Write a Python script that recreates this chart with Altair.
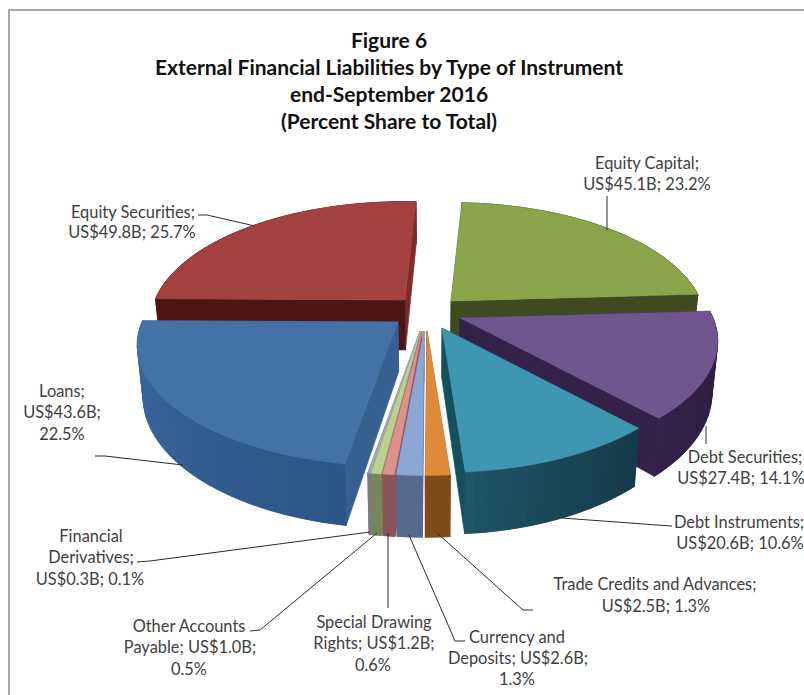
import math
import altair as alt

# Liabilities by instrument, clockwise from the top of the pie (US$ billions)
names = ["Equity Capital", "Debt Securities", "Debt Instruments", "Trade Credits and Advances",
         "Currency and Deposits", "Special Drawing Rights", "Other Accounts Payable",
         "Financial Derivatives", "Loans", "Equity Securities"]
values = [45.1, 27.4, 20.6, 2.5, 2.6, 1.2, 1.0, 0.3, 43.6, 49.8]

# Exploded position of each wedge's apex and its horizontal radius
apex_x = [451, 460, 442, 427, 424, 422, 420.5, 420, 398, 405]
apex_y = [301, 318, 328, 331, 331, 331, 331, 331, 322, 300]
radius_x = [250, 253, 250, 250, 250, 250, 250, 250, 256, 250]

# Wedge colours: top face, rim at both ends of the sweep, start and end cut faces
top_colors = ["#8BA54B", "#71558F", "#3E96B0", "#DF8A38", "#8CA6D5", "#DE8F8E", "#BAD18F",
              "#A9A1BA", "#4472A6", "#A34140"]
rim_start = ["#3F4A22", "#2E1E3C", "#163A48", "#7F4B1B", "#56698F", "#8A5558", "#77875C",
             "#7C7B8A", "#2D5587", "#5A1C1A"]
rim_end = ["#3F4A22", "#33214A", "#1F5468", "#7F4B1B", "#56698F", "#8A5558", "#77875C",
           "#7C7B8A", "#3C6BA2", "#5A1C1A"]
face_start = ["#4A5826", "#33214A", "#1C4452", "#7F4B1B", "#56698F", "#8A5558", "#77875C",
              "#7C7B8A", "#36608F", "#4B1614"]
face_end = ["#3E4A1F", "#33214A", "#12505F", "#7F4B1B", "#56698F", "#8A5558", "#77875C",
            "#7C7B8A", "#36608F", "#7D2B2A"]

# Back-to-front painting order of the wedges; the thin front wedges go left to right
paint_order = [9, 0, 1, 2, 7, 6, 5, 4, 3, 8]

title_lines = ["Figure 6", "External Financial Liabilities by Type of Instrument",
               "end-September 2016", "(Percent Share to Total)"]
title_y = [42, 69, 96, 123]

label_text = [
    ("Equity Capital;", 647, 164), ("US$45.1B; 23.2%", 647, 185),
    ("Equity Securities;", 133, 213), ("US$49.8B; 25.7%", 132, 233),
    ("Loans;", 62, 392), ("US$43.6B;", 62, 413), ("22.5%", 62, 435),
    ("Debt Securities;", 745, 458), ("US$27.4B; 14.1%", 741, 479),
    ("Debt Instruments;", 739, 523), ("US$20.6B; 10.6%", 740, 544),
    ("Trade Credits and Advances;", 655, 585), ("US$2.5B; 1.3%", 656, 607),
    ("Currency and", 517, 638), ("Deposits; US$2.6B;", 518, 659), ("1.3%", 517, 680),
    ("Special Drawing", 374, 623), ("Rights; US$1.2B;", 374, 644), ("0.6%", 373, 666),
    ("Other Accounts", 189, 627), ("Payable; US$1.0B;", 190, 648), ("0.5%", 189, 670),
    ("Financial", 91, 537), ("Derivatives;", 91, 558), ("US$0.3B; 0.1%", 90, 580),
]

leaders = [
    [(607, 196), (607, 230)],
    [(198, 215), (207, 215), (255, 226)],
    [(95, 456), (105, 456), (183, 465)],
    [(706, 426), (706, 444)],
    [(672, 526), (657, 525), (562, 518)],
    [(533, 610), (523, 610), (437, 533)],
    [(465, 641), (455, 641), (409, 535)],
    [(388, 533), (388, 608)],
    [(250, 631), (260, 630), (377, 533)],
    [(137, 562), (150, 561), (370, 532)],
]

frame = [(804, 10), (9, 10), (9, 695)]

START_ANGLE = 3.0
RY = 117.0
PERSPECTIVE = 0.19
DEPTH = 50.0
VANISH_X = 430.0


def top_point(i, angle):
    a = math.radians(angle)
    u, v = math.sin(a), -math.cos(a)
    s = 1 / (1 - PERSPECTIVE * v)
    return apex_x[i] + radius_x[i] * u * s, apex_y[i] + RY * v * s, s


def lower(x, y, s):
    return x + (VANISH_X - x) * 0.02, y + DEPTH * s


def mix(c1, c2, t):
    a = [int(c1[k:k + 2], 16) for k in (1, 3, 5)]
    b = [int(c2[k:k + 2], 16) for k in (1, 3, 5)]
    return "#%02x%02x%02x" % tuple(round(p + (q - p) * t) for p, q in zip(a, b))


def polygon(points, color):
    ring = [list(p) for p in points] + [list(points[0])]
    return {"type": "Feature", "properties": {"color": color},
            "geometry": {"type": "Polygon", "coordinates": [ring]}}


# Sweep of each wedge follows directly from its value
total = sum(values)
sweeps = []
angle = START_ANGLE
for v_ in values:
    sweeps.append((angle, angle + v_ / total * 360))
    angle += v_ / total * 360

features = []
for i in paint_order:
    a0, a1 = sweeps[i]
    steps = max(2, int((a1 - a0) / 2))
    angles = [a0 + (a1 - a0) * k / steps for k in range(steps + 1)]
    arc = [top_point(i, a) for a in angles]
    tip = (apex_x[i], apex_y[i], 1.0)

    # Solid rim underneath the shaded strips keeps the joins between them closed
    rim_band = [p[:2] for p in arc] + [lower(*p) for p in reversed(arc)]
    features.append(polygon(rim_band, mix(rim_start[i], rim_end[i], 0.5)))

    sides = []
    for k in range(steps):
        p, q = arc[k], arc[k + 1]
        quad = [p[:2], q[:2], lower(*q), lower(*p)]
        sides.append((max(p[1], q[1]), polygon(quad, mix(rim_start[i], rim_end[i], k / steps))))
    for end, color in ((arc[0], face_start[i]), (arc[-1], face_end[i])):
        quad = [tip[:2], end[:2], lower(*end), lower(*tip)]
        sides.append(((tip[1] + end[1]) / 2, polygon(quad, color)))

    # Far sides first so the nearer ones cover them
    for _, f in sorted(sides, key=lambda item: item[0]):
        features.append(f)
    features.append(polygon([tip[:2]] + [p[:2] for p in arc], top_colors[i]))

pie = (
    alt.Chart(alt.Data(values=features))
    .mark_geoshape(strokeWidth=0.6)
    .encode(
        fill=alt.Fill("properties.color:N", scale=None, legend=None),
        stroke=alt.Stroke("properties.color:N", scale=None, legend=None),
    )
    .project(type="identity", scale=1, translate=[0, 0])
)

x_pix = alt.X("x:Q", scale=None, axis=None)
y_pix = alt.Y("y:Q", scale=None, axis=None)

leader_rows = [{"id": n, "i": k, "x": p[0], "y": p[1]}
               for n, line in enumerate(leaders) for k, p in enumerate(line)]
leader_lines = (
    alt.Chart(alt.Data(values=leader_rows))
    .mark_line(color="#2b2b2b", strokeWidth=1)
    .encode(x=x_pix, y=y_pix, detail="id:N", order="i:Q")
)

frame_rows = [{"i": k, "x": p[0], "y": p[1]} for k, p in enumerate(frame)]
frame_line = (
    alt.Chart(alt.Data(values=frame_rows))
    .mark_line(color="#8c8c8c", strokeWidth=1.5)
    .encode(x=x_pix, y=y_pix, order="i:Q")
)

title_rows = [{"t": t, "x": 389, "y": y} for t, y in zip(title_lines, title_y)]
titles = (
    alt.Chart(alt.Data(values=title_rows))
    .mark_text(font="Lato", fontSize=21, fontWeight="bold", color="#111111", align="center", baseline="middle")
    .encode(x=x_pix, y=y_pix, text="t:N")
)

label_rows = [{"t": t, "x": x, "y": y} for t, x, y in label_text]
labels = (
    alt.Chart(alt.Data(values=label_rows))
    .mark_text(font="Lato", fontSize=16.4, color="#404040", align="center", baseline="middle")
    .encode(x=x_pix, y=y_pix, text="t:N")
)

chart = (
    alt.layer(frame_line, pie, leader_lines, titles, labels)
    .properties(width=804, height=695, padding=0, autosize=alt.AutoSizeParams(type="none"), background="white")
    .configure_view(strokeWidth=0)
)

chart.save("out.html", embed_options={"renderer": "svg", "actions": False})
